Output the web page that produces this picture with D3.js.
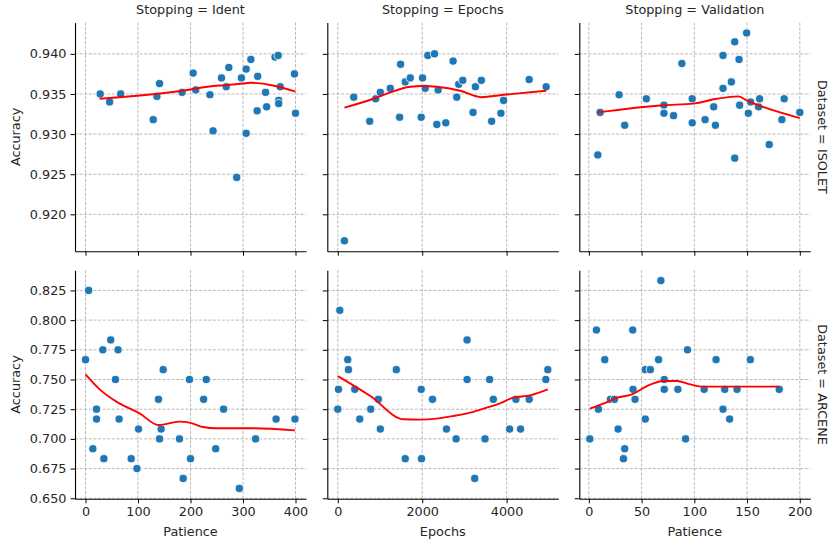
<!DOCTYPE html>
<html>
<head>
<meta charset="utf-8">
<script src="https://cdnjs.cloudflare.com/ajax/libs/d3/7.8.5/d3.min.js"></script>
<style>
  body { margin: 0; background: #fff; }
  svg text { font-family: "DejaVu Sans", sans-serif; font-size: 12.8px; fill: #262626; }
</style>
</head>
<body>
<svg id="chart" width="831" height="544"></svg>
<script>
"use strict";

// facet labels
let colTitles = ["Stopping = Ident", "Stopping = Epochs", "Stopping = Validation"];
let rowTitles = ["Dataset = ISOLET", "Dataset = ARCENE"];
let xLabels = ["Patience", "Epochs", "Patience"];

// tick labels
let patienceIdentTicks = [0, 100, 200, 300, 400];
let epochsTicks = [0, 2000, 4000];
let patienceValTicks = [0, 50, 100, 150, 200];
let isoletTicks = [0.920, 0.925, 0.930, 0.935, 0.940];
let arceneTicks = [0.650, 0.675, 0.700, 0.725, 0.750, 0.775, 0.800, 0.825];

// ISOLET / Ident
let isoIdentX = [28, 46, 67, 129, 136, 141, 184, 205, 210, 237, 243, 259, 268, 273, 288,
  297, 306, 306, 315, 328, 327, 343, 345, 361, 367, 371, 368, 368, 398, 400];
let isoIdentY = [0.9350, 0.9340, 0.9350, 0.9318, 0.9347, 0.9363, 0.9352, 0.9376, 0.9355, 0.9349,
  0.9304, 0.9370, 0.9359, 0.9383, 0.9246, 0.9370, 0.9381, 0.9301, 0.9393, 0.9372,
  0.9329, 0.9352, 0.9334, 0.9396, 0.9398, 0.9359, 0.9342, 0.9338, 0.9375, 0.9326];
let isoIdentLineX = [27, 184, 243, 268, 300, 314, 400];
let isoIdentLineY = [0.9344, 0.9354, 0.9360, 0.9361, 0.9363, 0.9364, 0.9353];

// ISOLET / Epochs
let isoEpochsX = [157, 378, 756, 898, 1008, 1244, 1465, 1488, 1598, 1717, 1976, 2008, 2071, 2134, 2291,
  2346, 2378, 2559, 2732, 2819, 2866, 2961, 3205, 3260, 3402, 3646, 3866, 3929, 4535, 4937];
let isoEpochsY = [0.9167, 0.9346, 0.9316, 0.9344, 0.9352, 0.9357, 0.9321, 0.9387, 0.9365, 0.9370,
  0.9321, 0.9370, 0.9357, 0.9398, 0.9400, 0.9312, 0.9355, 0.9314, 0.9391, 0.9346,
  0.9362, 0.9367, 0.9327, 0.9359, 0.9367, 0.9316, 0.9326, 0.9342, 0.9368, 0.9359];
let isoEpochsLineX = [157, 898, 1244, 1717, 2008, 2346, 2898, 3402, 3929, 4937];
let isoEpochsLineY = [0.9333, 0.9345, 0.9352, 0.9359, 0.9360, 0.9359, 0.9354, 0.9346, 0.9349, 0.9354];

// ISOLET / Validation
let isoValX = [8.5, 10.7, 28.7, 34, 54.5, 71.2, 71.2, 80.3, 88.2, 98, 98, 110.2, 118.4, 120, 127.2,
  127.2, 135.1, 138.3, 138.3, 142.4, 143, 149.6, 151.2, 153.4, 160.9, 161.9, 171, 183, 185.2, 200];
let isoValY = [0.9274, 0.9327, 0.9349, 0.9311, 0.9344, 0.9336, 0.9326, 0.9323, 0.9388, 0.9344,
  0.9314, 0.9318, 0.9334, 0.9311, 0.9398, 0.9357, 0.9365, 0.9415, 0.9270, 0.9393,
  0.9336, 0.9426, 0.9326, 0.9340, 0.9334, 0.9344, 0.9287, 0.9318, 0.9344, 0.9327];
let isoValLineX = [7.9, 70.9, 99.2, 121.3, 141.7, 149.6, 200];
let isoValLineY = [0.9327, 0.9336, 0.9338, 0.9344, 0.9347, 0.9342, 0.9320];

// ARCENE / Ident
let arcIdentX = [0, 6, 14, 21, 21, 33, 35, 48, 57, 62, 64, 87, 98, 101, 139,
  141, 144, 148, 179, 186, 198, 200, 225, 230, 248, 263, 293, 324, 363, 399];
let arcIdentY = [0.7667, 0.8250, 0.6917, 0.7250, 0.7167, 0.7750, 0.6833, 0.7833, 0.7500, 0.7750,
  0.7167, 0.6833, 0.6750, 0.7083, 0.7333, 0.7000, 0.7083, 0.7583, 0.7000, 0.6667,
  0.7500, 0.6833, 0.7333, 0.7500, 0.6917, 0.7250, 0.6583, 0.7000, 0.7167, 0.7167];
let arcIdentLineX = [0, 27, 62, 103, 139, 179, 198, 224, 249, 319, 399];
let arcIdentLineY = [0.7543, 0.7417, 0.7305, 0.7215, 0.7117, 0.7145, 0.7137, 0.7100, 0.7089, 0.7089, 0.7072];

// ARCENE / Epochs
let arcEpochsX = [47, 16, 0, 236, 252, 402, 520, 780, 961, 1008, 1386, 1598, 1976, 1984, 2244,
  2575, 2803, 3063, 3063, 3244, 3488, 3598, 3685, 4071, 4220, 4331, 4535, 4929, 4976];
let arcEpochsY = [0.8083, 0.7417, 0.7250, 0.7667, 0.7583, 0.7417, 0.7167, 0.7250, 0.7333, 0.7083,
  0.7583, 0.6833, 0.7417, 0.6833, 0.7333, 0.7083, 0.7000, 0.7833, 0.7500, 0.6667,
  0.7000, 0.7500, 0.7333, 0.7083, 0.7333, 0.7083, 0.7333, 0.7500, 0.7583];
let arcEpochsLineX = [0, 772, 1559, 1953, 2346, 2740, 3134, 3528, 3843, 4157, 4551, 4976];
let arcEpochsLineY = [0.7529, 0.7361, 0.7165, 0.7162, 0.7171, 0.7193, 0.7221, 0.7263, 0.7299, 0.7347, 0.7366, 0.7417];

// ARCENE / Validation
let arcValX = [0.9, 7.2, 9.1, 15.1, 20.5, 24.3, 27.7, 32.8, 34, 41.6, 41.9, 43.8, 53.5, 53.5, 58.3,
  66.1, 68.3, 71.5, 71.5, 84.4, 91.7, 93.5, 109.3, 120.6, 127.2, 128.8, 133.5, 140.5, 153.1, 180.5];
let arcValY = [0.7000, 0.7917, 0.7250, 0.7667, 0.7333, 0.7333, 0.7083, 0.6833, 0.6917, 0.7917,
  0.7417, 0.7333, 0.7583, 0.7167, 0.7583, 0.7667, 0.8333, 0.7500, 0.7417, 0.7417,
  0.7000, 0.7750, 0.7417, 0.7667, 0.7250, 0.7417, 0.7167, 0.7417, 0.7667, 0.7417];
let arcValLineX = [0.9, 14.2, 26.8, 41, 55.1, 70.9, 83.5, 96.1, 108.7, 140.2, 180.5];
let arcValLineY = [0.7254, 0.7299, 0.7347, 0.7375, 0.7445, 0.7487, 0.7487, 0.7459, 0.7440, 0.7440, 0.7440];

let panels = [
  [ {x: isoIdentX, y: isoIdentY, lx: isoIdentLineX, ly: isoIdentLineY},
    {x: isoEpochsX, y: isoEpochsY, lx: isoEpochsLineX, ly: isoEpochsLineY},
    {x: isoValX, y: isoValY, lx: isoValLineX, ly: isoValLineY} ],
  [ {x: arcIdentX, y: arcIdentY, lx: arcIdentLineX, ly: arcIdentLineY},
    {x: arcEpochsX, y: arcEpochsY, lx: arcEpochsLineX, ly: arcEpochsLineY},
    {x: arcValX, y: arcValY, lx: arcValLineX, ly: arcValLineY} ]
];
let xTicks = [patienceIdentTicks, epochsTicks, patienceValTicks];
let yTicks = [isoletTicks, arceneTicks];

// layout
let colX = [75, 327.3, 579.3];
let rowY = [22.6, 270.2];
let panelW = 231;
let panelH = 228.6;

// matplotlib style 5% margins, shared per column / row
function padded(vals) {
  let ext = d3.extent(vals);
  let m = (ext[1] - ext[0]) * 0.05;
  return [ext[0] - m, ext[1] + m];
}
let xDomains = [0, 1, 2].map(c => padded(panels[0][c].x.concat(panels[1][c].x)));
let yDomains = [0, 1].map(r => padded(panels[r][0].y.concat(panels[r][1].y, panels[r][2].y)));

let svg = d3.select("#chart");

function styleAxis(ax) {
  ax.attr("font-size", null).attr("font-family", null);
  ax.select(".domain").attr("stroke", "#000").attr("stroke-width", 1.1);
  ax.selectAll(".tick line").attr("stroke", "#000").attr("stroke-width", 1);
  ax.selectAll(".tick text").attr("fill", "#262626");
}

for (let r = 0; r < 2; r++) {
  for (let c = 0; c < 3; c++) {
    let p = panels[r][c];
    let g = svg.append("g").attr("transform", `translate(${colX[c]},${rowY[r]})`);
    let x = d3.scaleLinear().domain(xDomains[c]).range([0, panelW]);
    let y = d3.scaleLinear().domain(yDomains[r]).range([panelH, 0]);

    // grid
    g.selectAll(".vgrid").data(xTicks[c]).enter().append("line")
      .attr("x1", d => x(d)).attr("x2", d => x(d))
      .attr("y1", 0).attr("y2", panelH)
      .attr("stroke", "#a8a8a8").attr("stroke-width", 0.8).attr("stroke-dasharray", "3,1.6");
    g.selectAll(".hgrid").data(yTicks[r]).enter().append("line")
      .attr("x1", 0).attr("x2", panelW)
      .attr("y1", d => y(d)).attr("y2", d => y(d))
      .attr("stroke", "#a8a8a8").attr("stroke-width", 0.8).attr("stroke-dasharray", "3,1.6");

    // axes
    let xa = d3.axisBottom(x).tickValues(xTicks[c]).tickSizeInner(4.5).tickSizeOuter(0).tickPadding(4)
      .tickFormat(r === 1 ? d3.format("d") : "");
    let xg = g.append("g").attr("transform", `translate(0,${panelH})`).call(xa);
    styleAxis(xg);

    let ya = d3.axisLeft(y).tickValues(yTicks[r]).tickSizeInner(4.5).tickSizeOuter(0).tickPadding(4)
      .tickFormat(c === 0 ? d3.format(".3f") : "");
    let yg = g.append("g").call(ya);
    styleAxis(yg);

    // points
    g.selectAll(".pt").data(p.x).enter().append("circle")
      .attr("cx", d => x(d))
      .attr("cy", (d, i) => y(p.y[i]))
      .attr("r", 4.1)
      .attr("fill", "#1f77b4")
      .attr("stroke", "#fff")
      .attr("stroke-width", 0.8);

    // smoothed trend
    let line = d3.line().x(d => x(d[0])).y(d => y(d[1])).curve(d3.curveMonotoneX);
    g.append("path")
      .datum(p.lx.map((v, i) => [v, p.ly[i]]))
      .attr("d", line)
      .attr("fill", "none")
      .attr("stroke", "#ff0000")
      .attr("stroke-width", 1.9);

    if (r === 0) {
      g.append("text").attr("x", panelW / 2).attr("y", -9)
        .attr("text-anchor", "middle").text(colTitles[c]);
    }
    if (r === 1) {
      g.append("text").attr("x", panelW / 2).attr("y", panelH + 37.5)
        .attr("text-anchor", "middle").text(xLabels[c]);
    }
    if (c === 0) {
      g.append("text").attr("transform", `translate(-55.5,${panelH / 2}) rotate(-90)`)
        .attr("text-anchor", "middle").text("Accuracy");
    }
    if (c === 2) {
      g.append("text").attr("transform", `translate(${panelW + 7.5},${panelH / 2}) rotate(90)`)
        .attr("text-anchor", "middle").text(rowTitles[r]);
    }
  }
}
</script>
</body>
</html>
